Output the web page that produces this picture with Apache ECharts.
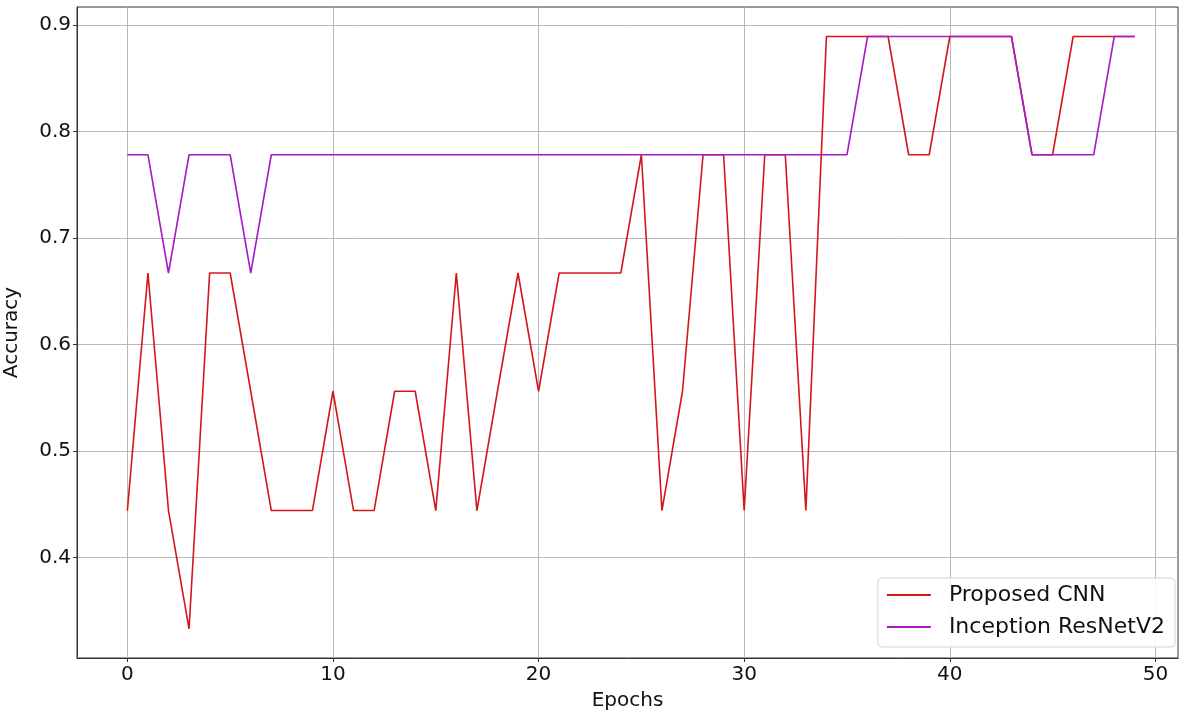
<!DOCTYPE html>
<html><head><meta charset="utf-8">
<script src="https://cdn.jsdelivr.net/npm/echarts@6/dist/echarts.min.js"></script>
<style>html,body{margin:0;padding:0;background:#fff}#c{width:1179px;height:713px}</style>
</head><body><div id="c"></div>
<script>
const epochs = Array.from({length: 50}, (_, i) => i);
const proposedCNN = [0.444,0.667,0.444,0.333,0.667,0.667,0.556,0.444,0.444,0.444,
  0.556,0.444,0.444,0.556,0.556,0.444,0.667,0.444,0.556,0.667,
  0.556,0.667,0.667,0.667,0.667,0.778,0.444,0.556,0.778,0.778,
  0.444,0.778,0.778,0.444,0.889,0.889,0.889,0.889,0.778,0.778,
  0.889,0.889,0.889,0.889,0.778,0.778,0.889,0.889,0.889,0.889];
const inceptionResNetV2 = [0.778,0.778,0.667,0.778,0.778,0.778,0.667,0.778,0.778,0.778,
  0.778,0.778,0.778,0.778,0.778,0.778,0.778,0.778,0.778,0.778,
  0.778,0.778,0.778,0.778,0.778,0.778,0.778,0.778,0.778,0.778,
  0.778,0.778,0.778,0.778,0.778,0.778,0.889,0.889,0.889,0.889,
  0.889,0.889,0.889,0.889,0.778,0.778,0.778,0.778,0.889,0.889];
const xTicks = [0,10,20,30,40,50];
const yTicks = [0.4,0.5,0.6,0.7,0.8,0.9];

const font = 'DejaVu Sans';
const chart = echarts.init(document.getElementById('c'), null, {renderer:'canvas'});
chart.setOption({
  backgroundColor:'#fff',
  animation:false,
  grid:{left:77,right:1,top:7,bottom:55,show:true,borderColor:'#333',borderWidth:1,
    containLabel:false,outerBoundsMode:'none'},
  legend:{
    orient:'vertical', right:4, bottom:66,
    data:['Proposed CNN','Inception ResNetV2'],
    itemWidth:44, itemHeight:2, itemGap:10,
    icon:'rect',
    textStyle:{fontFamily:font,fontSize:22,lineHeight:22,color:'#111',padding:[0,0,0,13]},
    backgroundColor:'rgba(255,255,255,0.85)',
    borderColor:'#d6d6d6', borderWidth:1, borderRadius:4,
    padding:[6,10,9,9]
  },
  xAxis:{
    type:'value', min:-2.45, max:51.1,
    name:'Epochs', nameLocation:'middle', nameGap:33,
    nameTextStyle:{fontFamily:font,fontSize:20,color:'#111'},
    axisLine:{show:true,onZero:false,lineStyle:{color:'#333',width:1}},
    axisTick:{show:true,length:4,lineStyle:{color:'#333'},customValues:xTicks},
    axisLabel:{fontFamily:font,fontSize:20,color:'#111',margin:7,customValues:xTicks},
    splitLine:{show:true,lineStyle:{color:'#b8b8b8',width:1}}
  },
  yAxis:{
    type:'value', min:0.3056, max:0.9167,
    name:'Accuracy', nameLocation:'middle', nameGap:55,
    nameTextStyle:{fontFamily:font,fontSize:20,color:'#111'},
    axisLine:{show:true,onZero:false,lineStyle:{color:'#333',width:1}},
    axisTick:{show:true,length:4,lineStyle:{color:'#333'},customValues:yTicks},
    axisLabel:{fontFamily:font,fontSize:20,color:'#111',margin:6,customValues:yTicks,
      formatter:v=>v.toFixed(1)},
    splitLine:{show:true,lineStyle:{color:'#b8b8b8',width:1}}
  },
  series:[
    {name:'Proposed CNN',type:'line',data:epochs.map((e,i)=>[e,proposedCNN[i]]),
      showSymbol:false,symbol:'none',lineStyle:{color:'#d3161a',width:1.6},itemStyle:{color:'#d3161a'}},
    {name:'Inception ResNetV2',type:'line',data:epochs.map((e,i)=>[e,inceptionResNetV2[i]]),
      showSymbol:false,symbol:'none',lineStyle:{color:'#a81ac6',width:1.6},itemStyle:{color:'#a81ac6'}}
  ]
});
</script></body></html>
